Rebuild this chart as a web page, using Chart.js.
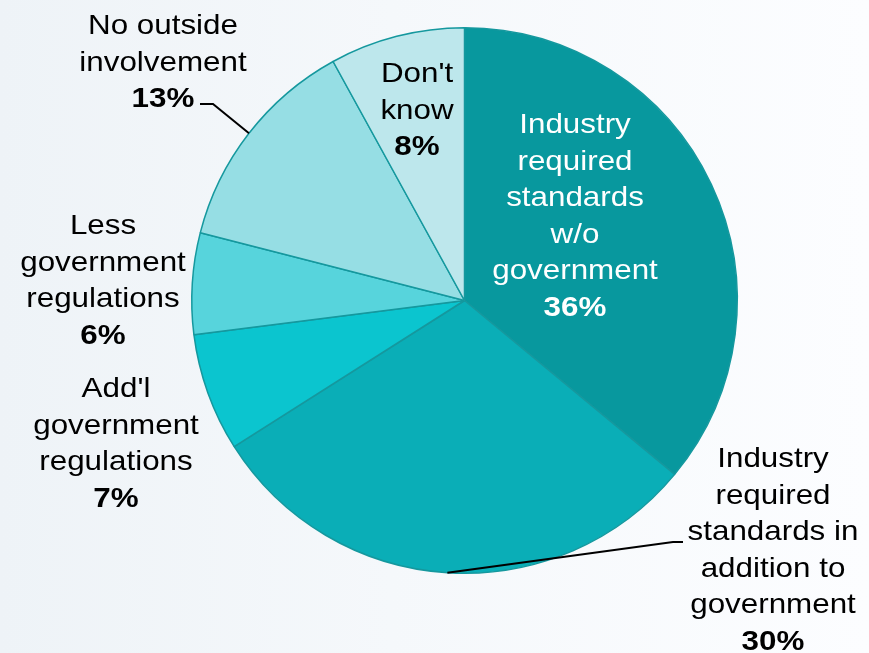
<!DOCTYPE html>
<html>
<head>
<meta charset="utf-8">
<script src="https://cdn.jsdelivr.net/npm/chart.js@4.4.0/dist/chart.umd.min.js"></script>
<style>
  html, body { margin: 0; padding: 0; }
  body {
    width: 869px; height: 653px; overflow: hidden;
    background: linear-gradient(to right, #eef3f7 0%, #f5f8fb 45%, #fcfdff 100%);
  }
  #grafico { display: block; }
</style>
</head>
<body>
<canvas id="grafico" width="869" height="653"></canvas>
<script>
// categorie (una riga per voce) e percentuali
const categorie = [
    ['Industry', 'required', 'standards', 'w/o', 'government'],
    ['Industry', 'required', 'standards in', 'addition to', 'government'],
    ['Add\'l', 'government', 'regulations'],
    ['Less', 'government', 'regulations'],
    ['No outside', 'involvement'],
    ['Don\'t', 'know']
]
const valori = [36, 30, 7, 6, 13, 8]
const colori = ['#08989e', '#0aaeb7', '#0bc5cf', '#57d4dc', '#96dee4', '#bde7ec']

// dove scrivere le etichette (centro del testo, baseline prima riga)
const posEtichette = [
    { x: 575, y: 133, colore: '#ffffff' },
    { x: 773, y: 467, colore: '#000000', leader: [683, 542, 673, 542] },
    { x: 116, y: 397, colore: '#000000' },
    { x: 103, y: 234, colore: '#000000' },
    { x: 163, y: 34, colore: '#000000', leader: [200, 104, 213, 104] },
    { x: 417, y: 82, colore: '#000000' }
]

const FONT = '"Liberation Sans", Arial, sans-serif'
const INTERLINEA = 36.5
const STRETCH = 1.12

function scriviRiga(ctx, testo, x, y) {
    ctx.save()
    ctx.translate(x, y)
    ctx.scale(STRETCH, 1)
    ctx.fillText(testo, 0, 0)
    ctx.restore()
}

const etichettePlugin = {
    id: 'etichette',
    afterDatasetsDraw(chart) {
        const ctx = chart.ctx
        const meta = chart.getDatasetMeta(0)

        meta.data.forEach((arco, i) => {
            let pos = posEtichette[i]

            // linea di richiamo dal bordo della fetta
            if (pos.leader) {
                const p = arco.getProps(['x', 'y', 'startAngle', 'endAngle', 'outerRadius'], true)
                const mezzo = (p.startAngle + p.endAngle) / 2
                const bx = p.x + Math.cos(mezzo) * p.outerRadius
                const by = p.y + Math.sin(mezzo) * p.outerRadius
                ctx.save()
                ctx.strokeStyle = '#000000'
                ctx.lineWidth = 2
                ctx.beginPath()
                ctx.moveTo(pos.leader[0], pos.leader[1])
                ctx.lineTo(pos.leader[2], pos.leader[3])
                ctx.lineTo(bx, by)
                ctx.stroke()
                ctx.restore()
            }

            ctx.save()
            ctx.fillStyle = pos.colore
            ctx.textAlign = 'center'
            ctx.textBaseline = 'alphabetic'
            ctx.font = '28px ' + FONT
            let righe = categorie[i]
            righe.forEach((riga, r) => {
                scriviRiga(ctx, riga, pos.x, pos.y + r * INTERLINEA)
            })
            ctx.font = 'bold 28px ' + FONT
            scriviRiga(ctx, valori[i] + '%', pos.x, pos.y + righe.length * INTERLINEA)
            ctx.restore()
        })
    }
}

new Chart(document.getElementById('grafico'), {
    type: 'pie',
    data: {
        labels: categorie,
        datasets: [{
            data: valori,
            backgroundColor: colori,
            borderColor: '#15989e',
            borderWidth: 1.5
        }]
    },
    options: {
        responsive: false,
        animation: false,
        layout: {
            padding: { left: 191, right: 131, top: 27, bottom: 79 }
        },
        plugins: {
            legend: { display: false },
            tooltip: { enabled: false }
        }
    },
    plugins: [etichettePlugin]
})
</script>
</body>
</html>
